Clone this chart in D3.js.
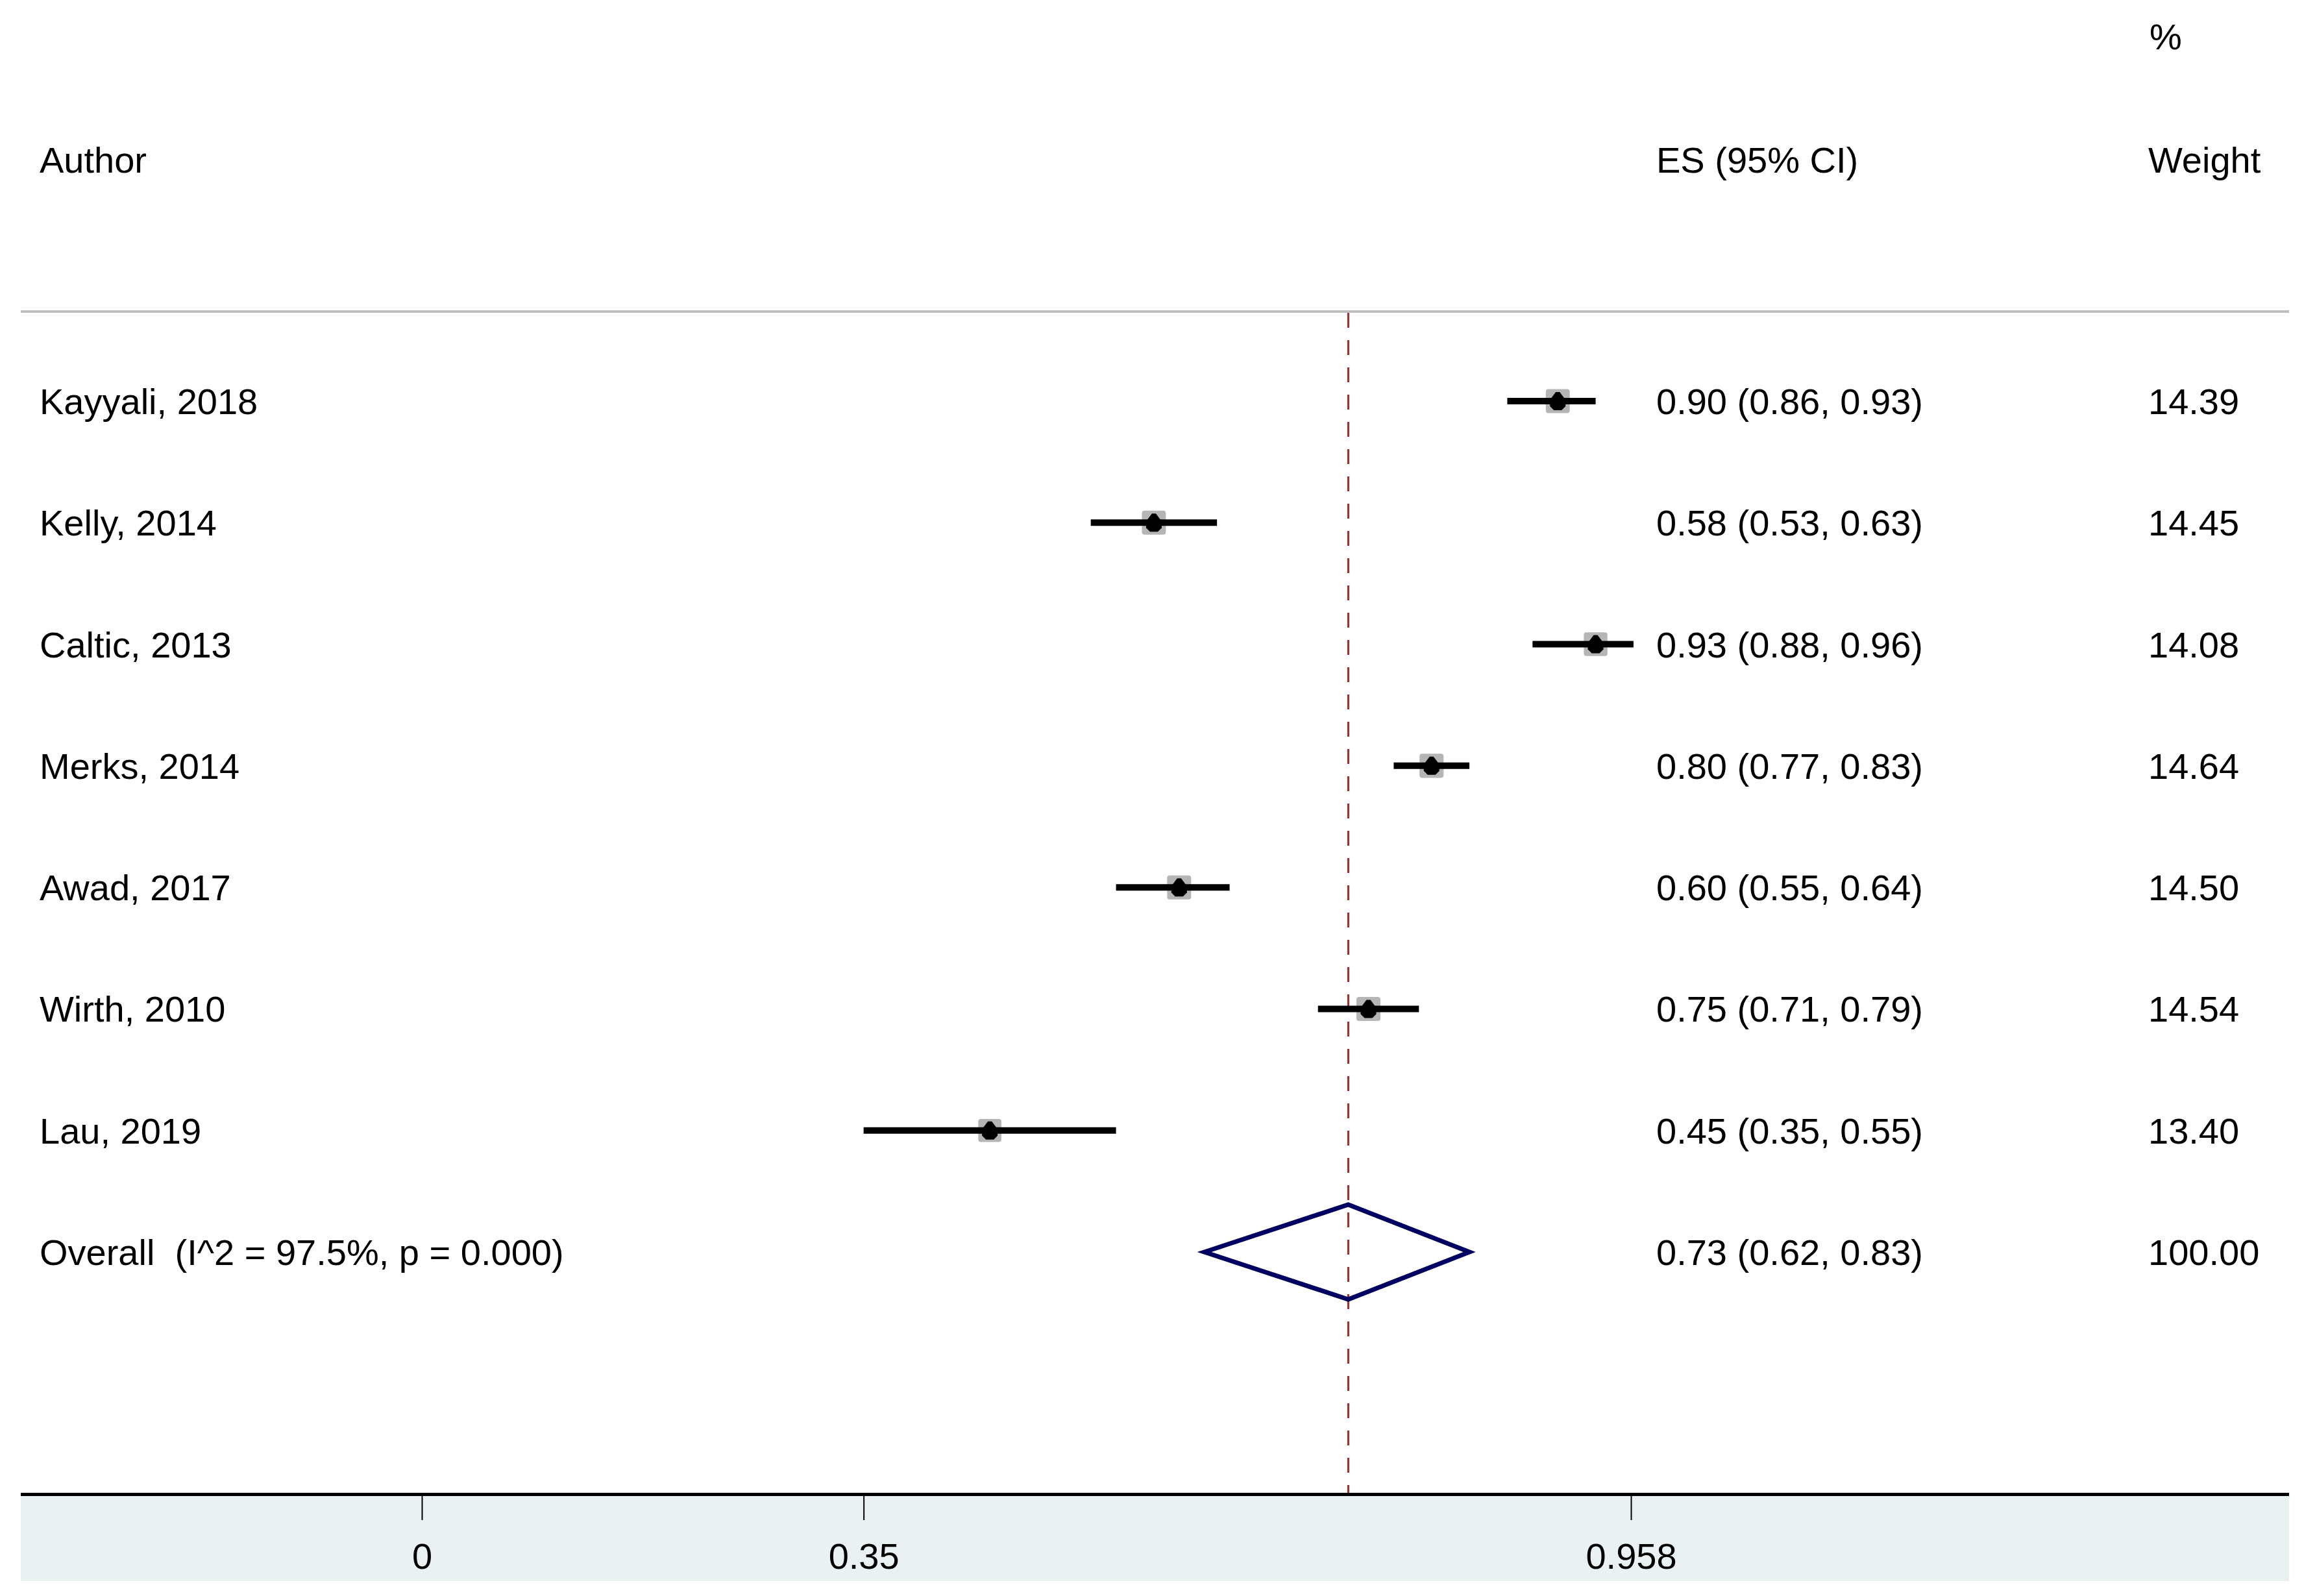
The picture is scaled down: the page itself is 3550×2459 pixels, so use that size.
<!DOCTYPE html>
<html>
<head>
<meta charset="utf-8">
<script src="https://cdn.jsdelivr.net/npm/d3@7"></script>
<style>
  body { margin: 0; background: #fff; }
  text { font-family: "Liberation Sans", Arial, sans-serif; fill: #000; white-space: pre; }
</style>
</head>
<body>
<script>
// study data
const authors = ["Kayyali, 2018", "Kelly, 2014", "Caltic, 2013", "Merks, 2014", "Awad, 2017", "Wirth, 2010", "Lau, 2019"];
const es = [0.90, 0.58, 0.93, 0.80, 0.60, 0.75, 0.45];
const lower = [0.86, 0.53, 0.88, 0.77, 0.55, 0.71, 0.35];
const upper = [0.93, 0.63, 0.96, 0.83, 0.64, 0.79, 0.55];
const weights = [14.39, 14.45, 14.08, 14.64, 14.50, 14.54, 13.40];

const overallLabel = "Overall  (I^2 = 97.5%, p = 0.000)";
const overallEs = 0.734;
const overallLo = 0.62;
const overallHi = 0.83;
const overallWeight = 100.00;

const tickValues = [0, 0.35, 0.958];

const W = 3550, H = 2459;
const fs = 56;
const left = 32, right = 3527;
const axisY = 2304;

const svg = d3.select("body").append("svg")
  .attr("width", W)
  .attr("height", H);

const x = d3.scaleLinear().domain([0, 0.958]).range([650, 2513]);

const rows = authors.concat([overallLabel]);
const y = d3.scalePoint().domain(rows).range([618, 1929]);

const f2 = d3.format(".2f");

// headers
svg.append("text").attr("x", 61).attr("y", 266).attr("font-size", fs).text("Author");
svg.append("text").attr("x", 2552).attr("y", 266).attr("font-size", fs).text("ES (95% CI)");
svg.append("text").attr("x", 3312).attr("y", 76).attr("font-size", fs).text("%");
svg.append("text").attr("x", 3310).attr("y", 266).attr("font-size", fs).text("Weight");

// header rule
svg.append("rect")
  .attr("x", left).attr("y", 478)
  .attr("width", right - left).attr("height", 4)
  .attr("fill", "#c0c0c0");

// axis band
svg.append("rect")
  .attr("x", left).attr("y", axisY)
  .attr("width", right - left).attr("height", 2436 - axisY)
  .attr("fill", "#e9f1f3");

// overall reference line
svg.append("line")
  .attr("x1", x(overallEs)).attr("x2", x(overallEs))
  .attr("y1", 482).attr("y2", axisY)
  .attr("stroke", "#8b3333")
  .attr("stroke-width", 3)
  .attr("stroke-dasharray", "23,19");

const studies = authors.map((a, i) => ({ a, es: es[i], lo: lower[i], hi: upper[i], w: weights[i] }));

// row text
svg.selectAll(".lab")
  .data(studies)
  .enter()
  .append("text")
  .attr("x", 61)
  .attr("y", d => y(d.a) + 20)
  .attr("font-size", fs)
  .text(d => d.a);

svg.selectAll(".est")
  .data(studies)
  .enter()
  .append("text")
  .attr("x", 2552)
  .attr("y", d => y(d.a) + 20)
  .attr("font-size", fs)
  .text(d => f2(d.es) + " (" + f2(d.lo) + ", " + f2(d.hi) + ")");

svg.selectAll(".wt")
  .data(studies)
  .enter()
  .append("text")
  .attr("x", 3310)
  .attr("y", d => y(d.a) + 20)
  .attr("font-size", fs)
  .text(d => f2(d.w));

// weight boxes (area ~ weight)
const k = 37 / Math.sqrt(14.5);
svg.selectAll(".box")
  .data(studies)
  .enter()
  .append("rect")
  .attr("x", d => x(d.es) - k * Math.sqrt(d.w) / 2)
  .attr("y", d => y(d.a) - k * Math.sqrt(d.w) / 2)
  .attr("width", d => k * Math.sqrt(d.w))
  .attr("height", d => k * Math.sqrt(d.w))
  .attr("rx", 4)
  .attr("fill", "#b5b5b5");

// CI lines
svg.selectAll(".ci")
  .data(studies)
  .enter()
  .append("line")
  .attr("x1", d => x(d.lo))
  .attr("x2", d => x(d.hi))
  .attr("y1", d => y(d.a))
  .attr("y2", d => y(d.a))
  .attr("stroke", "#000")
  .attr("stroke-width", 10);

// point estimates
svg.selectAll(".pt")
  .data(studies)
  .enter()
  .append("path")
  .attr("d", d => {
    const cx = x(d.es), cy = y(d.a);
    return "M" + (cx - 3) + "," + (cy - 14) + "L" + (cx + 3) + "," + (cy - 14) +
      "L" + (cx + 12) + "," + (cy - 2) + "L" + (cx + 12) + "," + (cy + 8) +
      "L" + (cx + 6) + "," + (cy + 14) + "L" + (cx - 6) + "," + (cy + 14) +
      "L" + (cx - 12) + "," + (cy + 8) + "L" + (cx - 12) + "," + (cy - 2) + "Z";
  })
  .attr("fill", "#000");

// overall
const oy = y(overallLabel);
svg.append("path")
  .attr("d", "M" + x(overallLo) + "," + oy + "L" + x(overallEs) + "," + (oy - 73) +
    "L" + x(overallHi) + "," + oy + "L" + x(overallEs) + "," + (oy + 73) + "Z")
  .attr("fill", "none")
  .attr("stroke", "#000060")
  .attr("stroke-width", 7);

svg.append("text").attr("x", 61).attr("y", oy + 20).attr("font-size", fs).text(overallLabel);
svg.append("text").attr("x", 2552).attr("y", oy + 20).attr("font-size", fs)
  .text(f2(overallEs) + " (" + f2(overallLo) + ", " + f2(overallHi) + ")");
svg.append("text").attr("x", 3310).attr("y", oy + 20).attr("font-size", fs).text(f2(overallWeight));

// x axis
const xAxis = d3.axisBottom(x)
  .tickValues(tickValues)
  .tickFormat(d => String(d))
  .tickSize(38)
  .tickPadding(35);

const gx = svg.append("g")
  .attr("transform", "translate(0," + axisY + ")")
  .call(xAxis);
gx.select(".domain").remove();
gx.selectAll(".tick line").attr("stroke", "#000").attr("stroke-width", 2);
gx.selectAll(".tick text")
  .attr("font-size", fs)
  .attr("font-family", "Liberation Sans, Arial, sans-serif")
  .attr("fill", "#000");

svg.append("rect")
  .attr("x", left).attr("y", axisY - 4)
  .attr("width", right - left).attr("height", 5)
  .attr("fill", "#000");
</script>
</body>
</html>
